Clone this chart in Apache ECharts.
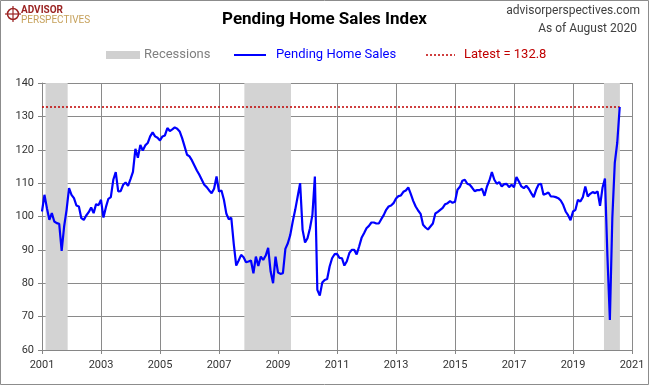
<!DOCTYPE html>
<html>
<head>
<meta charset="utf-8">
<script src="https://cdn.jsdelivr.net/npm/echarts@6/dist/echarts.min.js"></script>
<style>
html,body{margin:0;padding:0;background:#fff;}
#chart{width:649px;height:385px;}
</style>
</head>
<body>
<div id="chart"></div>
<script>
// ---- Data (monthly, Jan 2001 .. Aug 2020) ----
const startYear = 2001;
const pendingHomeSales = [
  // 2001
  101.5, 106.5, 102.5, 99.0, 101.0, 98.5, 98.0, 97.8, 89.7, 97.0, 102.0, 108.5,
  // 2002
  106.5, 105.5, 103.3, 103.0, 99.5, 99.0, 100.3, 101.3, 102.7, 101.0, 103.7, 103.4,
  // 2003
  105.0, 99.7, 102.8, 105.3, 105.8, 111.0, 113.3, 107.5, 107.6, 109.5, 110.2, 109.2,
  // 2004
  111.2, 113.4, 120.3, 117.6, 121.4, 119.8, 121.3, 122.0, 124.0, 125.2, 124.0, 123.6,
  // 2005
  122.8, 124.0, 124.3, 126.5, 125.6, 126.1, 126.7, 126.3, 125.5, 123.5, 121.0, 118.5,
  // 2006
  118.0, 116.8, 115.3, 113.8, 112.5, 111.0, 109.5, 108.8, 107.8, 107.0, 108.3, 112.0,
  // 2007
  107.5, 107.8, 105.0, 100.8, 99.2, 99.6, 91.8, 85.3, 86.8, 88.5, 87.8, 86.3,
  // 2008
  86.5, 86.8, 83.0, 88.0, 85.2, 88.0, 87.0, 88.3, 90.6, 83.5, 80.0, 88.0,
  // 2009
  83.2, 82.8, 83.0, 90.3, 92.0, 94.5, 98.5, 102.0, 106.0, 110.0, 96.0, 92.2,
  // 2010
  93.5, 96.5, 100.5, 112.0, 78.0, 76.3, 80.2, 81.0, 81.3, 85.0, 87.5, 88.7,
  // 2011
  88.8, 87.6, 87.5, 85.3, 86.6, 89.0, 90.0, 90.0, 88.6, 91.0, 93.6, 95.0,
  // 2012
  96.5, 97.2, 98.2, 98.2, 97.9, 97.9, 99.2, 100.4, 102.0, 103.0, 103.3, 104.0,
  // 2013
  105.4, 106.1, 106.3, 107.4, 107.8, 108.7, 106.8, 104.7, 103.0, 101.8, 100.8, 97.5,
  // 2014
  96.7, 96.1, 97.0, 97.9, 100.9, 101.4, 102.0, 102.6, 103.7, 104.0, 104.6, 104.1,
  // 2015
  104.4, 108.0, 108.9, 110.7, 111.0, 109.8, 109.5, 108.6, 107.6, 107.9, 107.9, 108.3,
  // 2016
  106.2, 109.0, 110.8, 113.3, 111.0, 109.8, 110.3, 109.0, 109.7, 109.8, 108.8, 109.5,
  // 2017
  108.8, 111.8, 110.5, 109.0, 108.5, 109.2, 108.3, 107.0, 105.8, 108.0, 109.6, 109.8,
  // 2018
  106.5, 106.8, 107.2, 106.0, 106.0, 105.8, 105.5, 104.8, 103.5, 101.5, 100.4, 98.9,
  // 2019
  101.5, 102.0, 105.0, 104.5, 105.8, 109.0, 106.0, 106.8, 107.3, 107.0, 107.5, 103.2,
  // 2020
  108.6, 111.4, 88.2, 69.0, 99.6, 116.1, 122.1, 132.8
];
const recessionStart = [2001.12, 2007.86, 2020.05];
const recessionEnd   = [2001.87, 2009.44, 2020.59];
const xTickLabels = ['2001','2003','2005','2007','2009','2011','2013','2015','2017','2019','2021'];
const yTickLabels = ['60','70','80','90','100','110','120','130','140'];
const latestValue = 132.8;

// ---- Build ----
const lineData = pendingHomeSales.map((v, i) => [startYear + i / 12, v]);
const lastX = lineData[lineData.length - 1][0];
const recessionAreas = recessionStart.map((s, i) => [{ xAxis: s }, { xAxis: recessionEnd[i] }]);

const FONT = 'Roboto, "Noto Sans", sans-serif';
const chart = echarts.init(document.getElementById('chart'), null, { renderer: 'canvas' });

chart.setOption({
  animation: false,
  backgroundColor: '#ffffff',
  grid: { left: 42, right: 17, top: 83, bottom: 35, containLabel: false },
  xAxis: {
    type: 'value',
    min: Number(xTickLabels[0]),
    max: Number(xTickLabels[xTickLabels.length - 1]),
    interval: 2,
    axisLine: { show: true, lineStyle: { color: '#868686', width: 1 } },
    axisTick: { show: true, inside: false, length: 4, lineStyle: { color: '#868686' } },
    axisLabel: { margin: 10, color: '#333', fontFamily: FONT, fontSize: 11, formatter: v => String(Math.round(v)) },
    splitLine: { show: true, lineStyle: { color: '#8a8a8a', width: 1 } }
  },
  yAxis: {
    type: 'value',
    min: Number(yTickLabels[0]),
    max: Number(yTickLabels[yTickLabels.length - 1]),
    interval: 10,
    axisLine: { show: true, lineStyle: { color: '#868686', width: 1 } },
    axisTick: { show: true, inside: false, length: 4, lineStyle: { color: '#868686' } },
    axisLabel: { margin: 8, color: '#333', fontFamily: FONT, fontSize: 11 },
    splitLine: { show: true, lineStyle: { color: '#8a8a8a', width: 1 } }
  },
  series: [
    {
      name: 'Pending Home Sales',
      type: 'line',
      data: lineData,
      showSymbol: false,
      symbol: 'none',
      lineStyle: { color: '#0000ff', width: 2.2 },
      z: 5,
      markArea: {
        silent: true,
        itemStyle: { color: '#d3d3d3' },
        data: recessionAreas,
        z: 1
      },
      markLine: {
        silent: true,
        symbol: ['none', 'none'],
        label: { show: false },
        lineStyle: { color: '#c00000', type: [2, 2], width: 1.5 },
        data: [[{ coord: [startYear, latestValue] }, { coord: [lastX, latestValue] }]]
      }
    }
  ],
  graphic: [
    // outer frame
    { type: 'rect', shape: { x: 0.5, y: 0.5, width: 648, height: 384 }, style: { fill: 'none', stroke: '#8c8c8c', lineWidth: 1 }, z: 100 },
    // title
    { type: 'text', left: 'center', top: 11, style: { text: 'Pending Home Sales Index', font: 'bold 17px ' + FONT, fill: '#000' } },
    // top-right source
    { type: 'text', right: 9, top: 5, style: { text: 'advisorperspectives.com', font: '12px ' + FONT, fill: '#404040' } },
    { type: 'text', right: 12, top: 23, style: { text: 'As of August 2020', font: '12px ' + FONT, fill: '#404040' } },
    // logo
    { type: 'circle', shape: { cx: 13, cy: 14, r: 5.5 }, style: { fill: 'none', stroke: '#9b2423', lineWidth: 1.5 } },
    { type: 'line', shape: { x1: 13, y1: 6, x2: 13, y2: 22 }, style: { stroke: '#9b2423', lineWidth: 1.2 } },
    { type: 'line', shape: { x1: 5, y1: 14, x2: 21, y2: 14 }, style: { stroke: '#9b2423', lineWidth: 1.2 } },
    { type: 'text', left: 21, top: 5, style: { text: 'ADVISOR', font: 'bold 10px ' + FONT, fill: '#9b2423' } },
    { type: 'text', left: 21, top: 15, style: { text: 'PERSPECTIVES', font: '10px ' + FONT, fill: '#c6a15b' } },
    // legend
    { type: 'rect', shape: { x: 106, y: 51, width: 34, height: 8 }, style: { fill: '#d0d0d0' } },
    { type: 'text', left: 144, top: 48, style: { text: 'Recessions', font: '13px ' + FONT, fill: '#7f7f7f' } },
    { type: 'line', shape: { x1: 234, y1: 55, x2: 266, y2: 55 }, style: { stroke: '#0000ff', lineWidth: 2 } },
    { type: 'text', left: 276, top: 48, style: { text: 'Pending Home Sales', font: '13px ' + FONT, fill: '#0000ff' } },
    { type: 'line', shape: { x1: 426, y1: 55, x2: 455, y2: 55 }, style: { stroke: '#c00000', lineWidth: 1.5, lineDash: [2, 2] } },
    { type: 'text', left: 464, top: 48, style: { text: 'Latest = 132.8', font: '13px ' + FONT, fill: '#c00000' } }
  ]
});
</script>
</body>
</html>
